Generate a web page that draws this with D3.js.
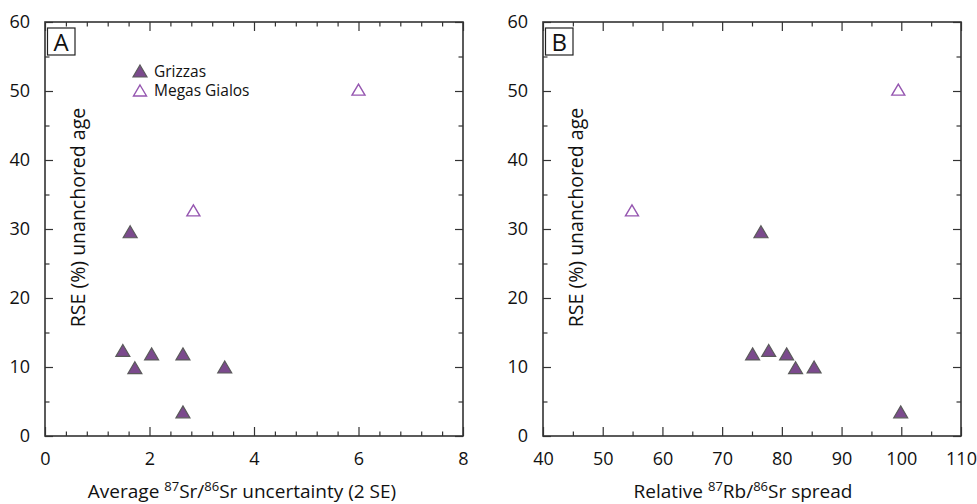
<!DOCTYPE html>
<html>
<head>
<meta charset="utf-8">
<script src="https://cdn.jsdelivr.net/npm/d3@7"></script>
<style>
  body { margin: 0; background: #fff; }
  text { font-family: "Open Sans", sans-serif; fill: #111; }
</style>
</head>
<body>
<svg id="chart" width="977" height="504"></svg>
<script>
// data
var rseTicks = [0, 10, 20, 30, 40, 50, 60];

// panel A : average 87Sr/86Sr uncertainty (2 SE)
var uncTicks = [0, 2, 4, 6, 8];
var grizzasUnc = [1.63, 1.49, 1.72, 2.04, 2.64, 2.64, 3.44];
var grizzasRseA = [29.6, 12.4, 9.9, 11.9, 11.9, 3.5, 10.0];
var megasUnc = [2.84, 6.0];
var megasRseA = [32.7, 50.2];

// panel B : relative 87Rb/86Sr spread
var spreadTicks = [40, 50, 60, 70, 80, 90, 100, 110];
var grizzasSpread = [76.5, 77.8, 75.1, 80.8, 82.3, 85.4, 99.9];
var grizzasRseB = [29.6, 12.4, 11.9, 11.9, 9.9, 10.0, 3.5];
var megasSpread = [54.9, 99.5];
var megasRseB = [32.7, 50.2];

var fillPurple = "#7b4a8d", edgeGrey = "#5a5a5a", openPurple = "#9556b0";

var svg = d3.select("#chart");
var plotTop = 22, plotBottom = 436;

function tri(w, h) {
  return "M0," + (-h / 2) + "L" + (w / 2) + "," + (h / 2) + "L" + (-w / 2) + "," + (h / 2) + "Z";
}

function panel(opt) {
  var g = svg.append("g");
  var x = d3.scaleLinear().domain(opt.xDomain).range([opt.left, opt.right]);
  var y = d3.scaleLinear().domain([0, 60]).range([plotBottom, plotTop]);

  // minor ticks
  g.append("g").attr("transform", "translate(0," + plotBottom + ")")
    .call(d3.axisBottom(x).tickValues(opt.xMinor).tickSize(-4.5).tickFormat(""));
  g.append("g").attr("transform", "translate(0," + plotTop + ")")
    .call(d3.axisTop(x).tickValues(opt.xMinor).tickSize(-4.5).tickFormat(""));
  var yMinor = [5, 15, 25, 35, 45, 55];
  g.append("g").attr("transform", "translate(" + opt.left + ",0)")
    .call(d3.axisLeft(y).tickValues(yMinor).tickSize(-4.5).tickFormat(""));
  g.append("g").attr("transform", "translate(" + opt.right + ",0)")
    .call(d3.axisRight(y).tickValues(yMinor).tickSize(-4.5).tickFormat(""));

  // major ticks
  g.append("g").attr("transform", "translate(0," + plotBottom + ")")
    .call(d3.axisBottom(x).tickValues(opt.xTicks).tickSize(-9).tickPadding(16).tickFormat(d3.format("d")));
  g.append("g").attr("transform", "translate(0," + plotTop + ")")
    .call(d3.axisTop(x).tickValues(opt.xTicks).tickSize(-9).tickFormat(""));
  g.append("g").attr("transform", "translate(" + opt.left + ",0)")
    .call(d3.axisLeft(y).tickValues(rseTicks).tickSize(-8).tickPadding(15).tickFormat(d3.format("d")));
  g.append("g").attr("transform", "translate(" + opt.right + ",0)")
    .call(d3.axisRight(y).tickValues(rseTicks).tickSize(-8).tickFormat(""));

  g.selectAll(".domain").remove();
  g.selectAll(".tick line").attr("stroke", "#333").attr("stroke-width", 1.2);
  g.selectAll(".tick text").style("font-family", "'Open Sans', sans-serif")
    .style("font-size", "18px").attr("fill", "#111");

  // frame
  g.append("rect")
    .attr("x", opt.left).attr("y", plotTop)
    .attr("width", opt.right - opt.left).attr("height", plotBottom - plotTop)
    .attr("fill", "none").attr("stroke", "#333").attr("stroke-width", 1.6);

  // panel letter
  g.append("rect").attr("x", opt.left + 2.5).attr("y", 28)
    .attr("width", 27.5).attr("height", 27)
    .attr("fill", "#fff").attr("stroke", "#222").attr("stroke-width", 1.2);
  g.append("text").attr("x", opt.left + 16.2).attr("y", 50.5)
    .attr("text-anchor", "middle").style("font-size", "24px").text(opt.letter);

  // y title
  g.append("text")
    .attr("transform", "translate(" + (opt.left + 40) + "," + 217.5 + ") rotate(-90)")
    .attr("text-anchor", "middle").style("font-size", "19.5px")
    .text("RSE (%) unanchored age");

  // x title
  var xt = g.append("text").attr("x", opt.titleX).attr("y", 498)
    .attr("text-anchor", "middle").style("font-size", "19px");
  opt.title.forEach(function(p) {
    var t = xt.append("tspan").text(p[0]);
    if (p[1] === "sup") t.attr("dy", "-7").style("font-size", "13px");
    if (p[1] === "base") t.attr("dy", "7");
  });

  // points
  g.selectAll(".open").data(opt.mx.map(function(v, i) { return [v, opt.my[i]]; }))
    .enter().append("path")
    .attr("transform", function(d) { return "translate(" + x(d[0]) + "," + y(d[1]) + ")"; })
    .attr("d", tri(13, 11))
    .attr("fill", "#fff").attr("stroke", openPurple).attr("stroke-width", 1.4);
  g.selectAll(".fill").data(opt.gx.map(function(v, i) { return [v, opt.gy[i]]; }))
    .enter().append("path")
    .attr("transform", function(d) { return "translate(" + x(d[0]) + "," + y(d[1]) + ")"; })
    .attr("d", tri(14, 12))
    .attr("fill", fillPurple).attr("stroke", edgeGrey).attr("stroke-width", 1.2);
  return g;
}

panel({
  left: 45, right: 463, xDomain: [0, 8], xTicks: uncTicks,
  xMinor: d3.range(0, 8.01, 0.4).filter(function(v) { return Math.abs(v / 2 - Math.round(v / 2)) > 0.01; }),
  letter: "A", titleX: 242,
  title: [["Average "], ["87", "sup"], ["Sr/", "base"], ["86", "sup"], ["Sr uncertainty (2 SE)", "base"]],
  gx: grizzasUnc, gy: grizzasRseA, mx: megasUnc, my: megasRseA
});

panel({
  left: 543, right: 961, xDomain: [40, 110], xTicks: spreadTicks,
  xMinor: [45, 55, 65, 75, 85, 95, 105],
  letter: "B", titleX: 743,
  title: [["Relative "], ["87", "sup"], ["Rb/", "base"], ["86", "sup"], ["Sr spread", "base"]],
  gx: grizzasSpread, gy: grizzasRseB, mx: megasSpread, my: megasRseB
});

// legend (panel A)
var legend = svg.append("g");
var legendItems = ["Grizzas", "Megas Gialos"];
legendItems.forEach(function(name, i) {
  var ly = 71 + i * 19.5;
  legend.append("path").attr("transform", "translate(140," + ly + ")")
    .attr("d", i === 0 ? tri(14, 12) : tri(13, 11))
    .attr("fill", i === 0 ? fillPurple : "#fff")
    .attr("stroke", i === 0 ? edgeGrey : openPurple)
    .attr("stroke-width", i === 0 ? 1.2 : 1.4);
  legend.append("text").attr("x", 154).attr("y", ly + 5.5)
    .style("font-size", "15.5px").text(name);
});
</script>
</body>
</html>
